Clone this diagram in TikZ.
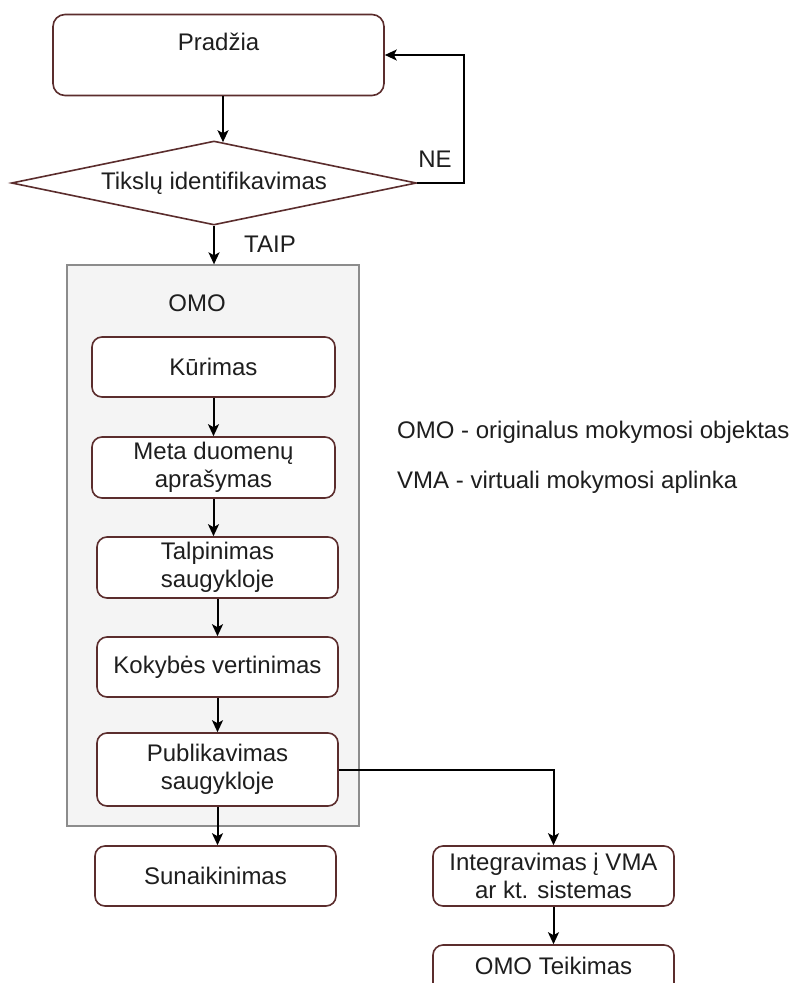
\documentclass[tikz,border=0pt]{standalone}
\usepackage{fontspec}
\setmainfont{Liberation Sans}
\usetikzlibrary{shapes.geometric,arrows.meta}
\definecolor{boxline}{HTML}{5B2D2D}
\definecolor{txtcol}{HTML}{1E1E1E}
\definecolor{groupfill}{HTML}{F4F4F4}
\definecolor{groupline}{HTML}{8C8C8C}
\tikzset{
  stepbox/.style={draw=boxline, line width=1.6pt, rounded corners=10pt, fill=white,
    inner sep=0pt, align=center, text=txtcol},
  decbox/.style={draw=boxline, line width=1.6pt, diamond, aspect=4.8, fill=white,
    inner sep=0pt, minimum width=405pt, minimum height=84pt, text=txtcol},
  groupbox/.style={draw=groupline, line width=1.3pt, fill=groupfill, inner sep=0pt},
  txt/.style={inner sep=0pt, text=txtcol, align=center},
  arr/.style={draw=black, line width=2pt, -{Stealth[length=12pt,width=11pt,inset=3pt]}}
}
\begin{document}
\begin{tikzpicture}[x=1pt,y=-1pt,font=\fontsize{24}{27.5}\selectfont]
\clip (0,0) rectangle (799,983);
\fill[white] (0,0) rectangle (799,983);

% OMO group frame
\node[groupbox, minimum width=292pt, minimum height=561pt] (omo) at (213,545.5) {};
\node[txt] (omolbl) at (197,303) {OMO};

% start and decision
\node[stepbox, rounded corners=12pt, minimum width=331pt, minimum height=81pt] (start) at (218.5,55) {};
\node[txt] (startlbl) at (218.5,42) {Pradžia};
\node[decbox] (dec) at (214,183) {Tikslų identifikavimas};

% process steps
\node[stepbox, minimum width=243pt, minimum height=60pt] (kur) at (213.5,367) {Kūrimas};
\node[stepbox, minimum width=243pt, minimum height=61pt] (meta) at (213.5,467.5) {Meta duomenų\\aprašymas};
\node[stepbox, minimum width=241pt, minimum height=61pt] (talp) at (217.5,567.5) {Talpinimas\\saugykloje};
\node[stepbox, minimum width=241pt, minimum height=60pt] (kok) at (217.5,667) {Kokybės vertinimas};
\node[stepbox, minimum width=241pt, minimum height=73pt] (pub) at (217.5,769.5) {Publikavimas\\saugykloje};
\node[stepbox, minimum width=241pt, minimum height=60pt] (sun) at (215.5,876) {Sunaikinimas};
\node[stepbox, minimum width=241pt, minimum height=60pt] (integ) at (553.5,876) {Integravimas į VMA\\ar kt. sistemas};
\node[stepbox, minimum width=241pt, minimum height=60pt] (teik) at (553.5,975) {};
\node[txt] (teiklbl) at (553.5,966) {OMO Teikimas};

% legend
\node[txt, anchor=west] (leg1) at (397,432) {OMO - originalus mokymosi objektas};
\node[txt, anchor=west] (leg2) at (397,482) {VMA - virtuali mokymosi aplinka};

% connectors
\draw[arr] ([xshift=4.5pt]start.south) -- ([xshift=4.5pt,yshift=-2pt]start.south |- dec.north);
\coordinate (nebend) at (464,183);
\draw[arr] (dec.east) -- (nebend) |- (start.east);
\node[txt] (nelbl) at (435,159) {NE};
\draw[arr] (dec.south) -- (dec.south |- omo.north);
\node[txt] (taiplbl) at (270,244) {TAIP};

\draw[arr] (kur.south) -- (meta.north);
\draw[arr] (meta.south) -- (meta.south |- talp.north);
\draw[arr] (talp.south) -- (kok.north);
\draw[arr] (kok.south) -- (pub.north);
\draw[arr] (pub.south) -- (pub.south |- sun.north);
\draw[arr] (pub.east) -| (integ.north);
\draw[arr] (integ.south) -- (teik.north);
\end{tikzpicture}
\end{document}
